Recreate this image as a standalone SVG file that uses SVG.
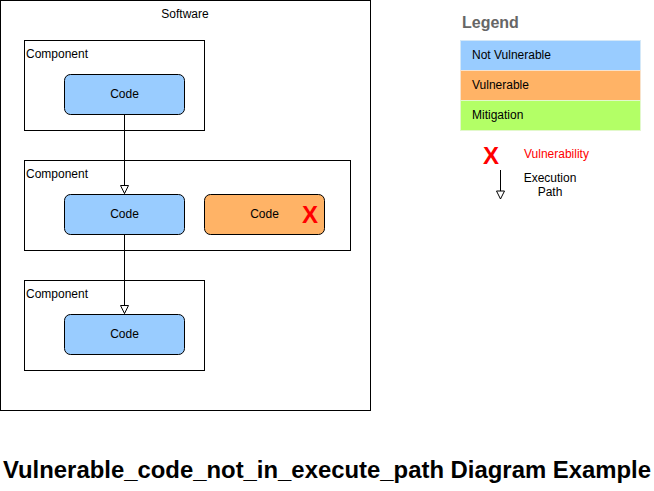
<svg xmlns="http://www.w3.org/2000/svg" width="654" height="491" viewBox="0 0 654 491">
<defs>
<marker id="tri" viewBox="0 0 10 10" refX="9" refY="5" markerWidth="10" markerHeight="10" markerUnits="userSpaceOnUse" orient="auto">
<path d="M1,1 L9,5 L1,9 Z" fill="#fff" stroke="#000" stroke-width="1"/>
</marker>
<style>
text{font-family:"Liberation Sans",Arial,sans-serif;font-size:12px;fill:#000}
.box{fill:#fff;stroke:#000;stroke-width:1}
.blue{fill:#99CCFF;stroke:#000;stroke-width:1}
.orange{fill:#FFB366;stroke:#000;stroke-width:1}
.c{text-anchor:middle}
.x{fill:#ff0000;font-weight:bold;font-size:24px}
.conn{stroke:#000;stroke-width:1;fill:none}
</style>
</defs>
<rect width="654" height="491" fill="#fff"/>
<g id="software"><rect class="box" x="0.5" y="0.5" width="370" height="410"/><text class="c" x="185" y="18">Software</text></g>
<g id="component1"><rect class="box" x="24.5" y="40.5" width="180" height="90"/><text x="26" y="58">Component</text></g>
<g id="code1"><rect class="blue" x="64.5" y="74.5" width="120" height="40" rx="6"/><text class="c" x="124.5" y="98">Code</text></g>
<g id="component2"><rect class="box" x="24.5" y="160.5" width="326" height="90"/><text x="26" y="178">Component</text></g>
<g id="code2"><rect class="blue" x="64.5" y="194.5" width="120" height="40" rx="6"/><text class="c" x="124.5" y="218">Code</text></g>
<g id="code3"><rect class="orange" x="204.5" y="194.5" width="120" height="40" rx="6"/><text class="c" x="264.5" y="218">Code</text><text class="x c" x="310" y="223">X</text></g>
<g id="component3"><rect class="box" x="24.5" y="280.5" width="180" height="90"/><text x="26" y="298">Component</text></g>
<g id="code4"><rect class="blue" x="64.5" y="314.5" width="120" height="40" rx="6"/><text class="c" x="124.5" y="338">Code</text></g>
<g id="connectors">
<line class="conn" x1="124.5" y1="114.5" x2="124.5" y2="193.5" marker-end="url(#tri)"/>
<line class="conn" x1="124.5" y1="234.5" x2="124.5" y2="313.5" marker-end="url(#tri)"/>
</g>
<g id="legend">
<text x="462" y="28" style="font-weight:bold;font-size:16px;fill:#666">Legend</text>
<rect x="460.5" y="40.5" width="180" height="30" fill="#99CCFF" stroke="#d4e8f8"/>
<text x="472" y="59">Not Vulnerable</text>
<rect x="460.5" y="70.5" width="180" height="30" fill="#FFB366" stroke="#f8e2cc"/>
<text x="472" y="89">Vulnerable</text>
<rect x="460.5" y="100.5" width="180" height="30" fill="#B3FF66" stroke="#e2f8cc"/>
<text x="472" y="119">Mitigation</text>
<text class="x c" x="491" y="164">X</text>
<text x="524" y="158" style="fill:#ff0000">Vulnerability</text>
<line class="conn" x1="500.5" y1="170" x2="500.5" y2="199" marker-end="url(#tri)"/>
<text class="c" x="550" y="182">Execution</text>
<text class="c" x="550" y="196">Path</text>
</g>
<text x="327" y="478" text-anchor="middle" textLength="648" lengthAdjust="spacingAndGlyphs" style="font-weight:bold;font-size:24px">Vulnerable_code_not_in_execute_path Diagram Example</text>
</svg>
